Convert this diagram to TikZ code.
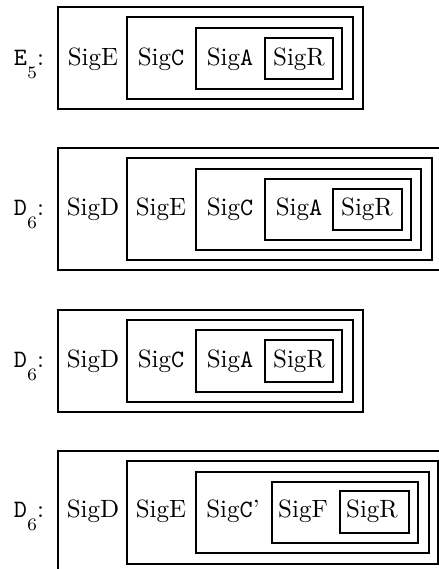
\documentclass[tikz,border=0pt]{standalone}
\usepackage{tikz}
\usetikzlibrary{positioning}

\tikzset{sig/.style={anchor=base,inner sep=0pt},
         lbl/.style={anchor=base,inner sep=0pt},
         frame/.style={draw,line width=0.55pt}}
\newcommand{\lowsub}[1]{\raisebox{-5.5pt}{$\scriptstyle #1$}}

\begin{document}
\begin{tikzpicture}[x=0.4pt,y=-0.4pt]
\useasboundingbox (0,0) rectangle (439,569);
\clip (0,0) rectangle (439,569);

% E_5
\node[lbl] (L1) at (29,65) {\texttt{E}\lowsub{5}:};
\draw[frame] (58,7) rectangle (363,109);
\draw[frame] (127,17) rectangle (353,99);
\draw[frame] (196,28) rectangle (342,89);
\draw[frame] (265,38) rectangle (333,79);
\node[sig] (E1) at (93,65)  {SigE};
\node[sig] (C1) at (161,65) {Sig\texttt{C}};
\node[sig] (A1) at (230,65) {Sig\texttt{A}};
\node[sig] (R1) at (299,65) {SigR};

% D_6 (first)
\node[lbl] (L2) at (29,215) {\texttt{D}\lowsub{6}:};
\draw[frame] (58,148) rectangle (444,270);
\draw[frame] (127,158) rectangle (432,260);
\draw[frame] (196,169) rectangle (421,250);
\draw[frame] (265,179) rectangle (411,240);
\draw[frame] (333,189) rectangle (402,230);
\node[sig] (D2) at (93,215)  {SigD};
\node[sig] (E2) at (161,215) {SigE};
\node[sig] (C2) at (230,215) {Sig\texttt{C}};
\node[sig] (A2) at (299,215) {Sig\texttt{A}};
\node[sig] (R2) at (367,215) {SigR};

% D_6 (second)
\node[lbl] (L3) at (29,367) {\texttt{D}\lowsub{6}:};
\draw[frame] (58,310) rectangle (363,412);
\draw[frame] (127,320) rectangle (353,402);
\draw[frame] (196,330) rectangle (342,392);
\draw[frame] (265,340) rectangle (333,382);
\node[sig] (D3) at (93,367)  {SigD};
\node[sig] (C3) at (161,367) {Sig\texttt{C}};
\node[sig] (A3) at (230,367) {Sig\texttt{A}};
\node[sig] (R3) at (299,367) {SigR};

% D_6 (third)
\node[lbl] (L4) at (29,517) {\texttt{D}\lowsub{6}:};
\draw[frame] (58,451) rectangle (450,576);
\draw[frame] (127,461) rectangle (438,564);
\draw[frame] (196,472) rectangle (429,553);
\draw[frame] (272,482) rectangle (418,543);
\draw[frame] (340,491) rectangle (409,533);
\node[sig] (D4) at (93,517)  {SigD};
\node[sig] (E4) at (161,517) {SigE};
\node[sig] (C4) at (233,517) {Sig\texttt{C}'};
\node[sig] (F4) at (303,517) {SigF};
\node[sig] (R4) at (372,517) {SigR};
\end{tikzpicture}
\end{document}
